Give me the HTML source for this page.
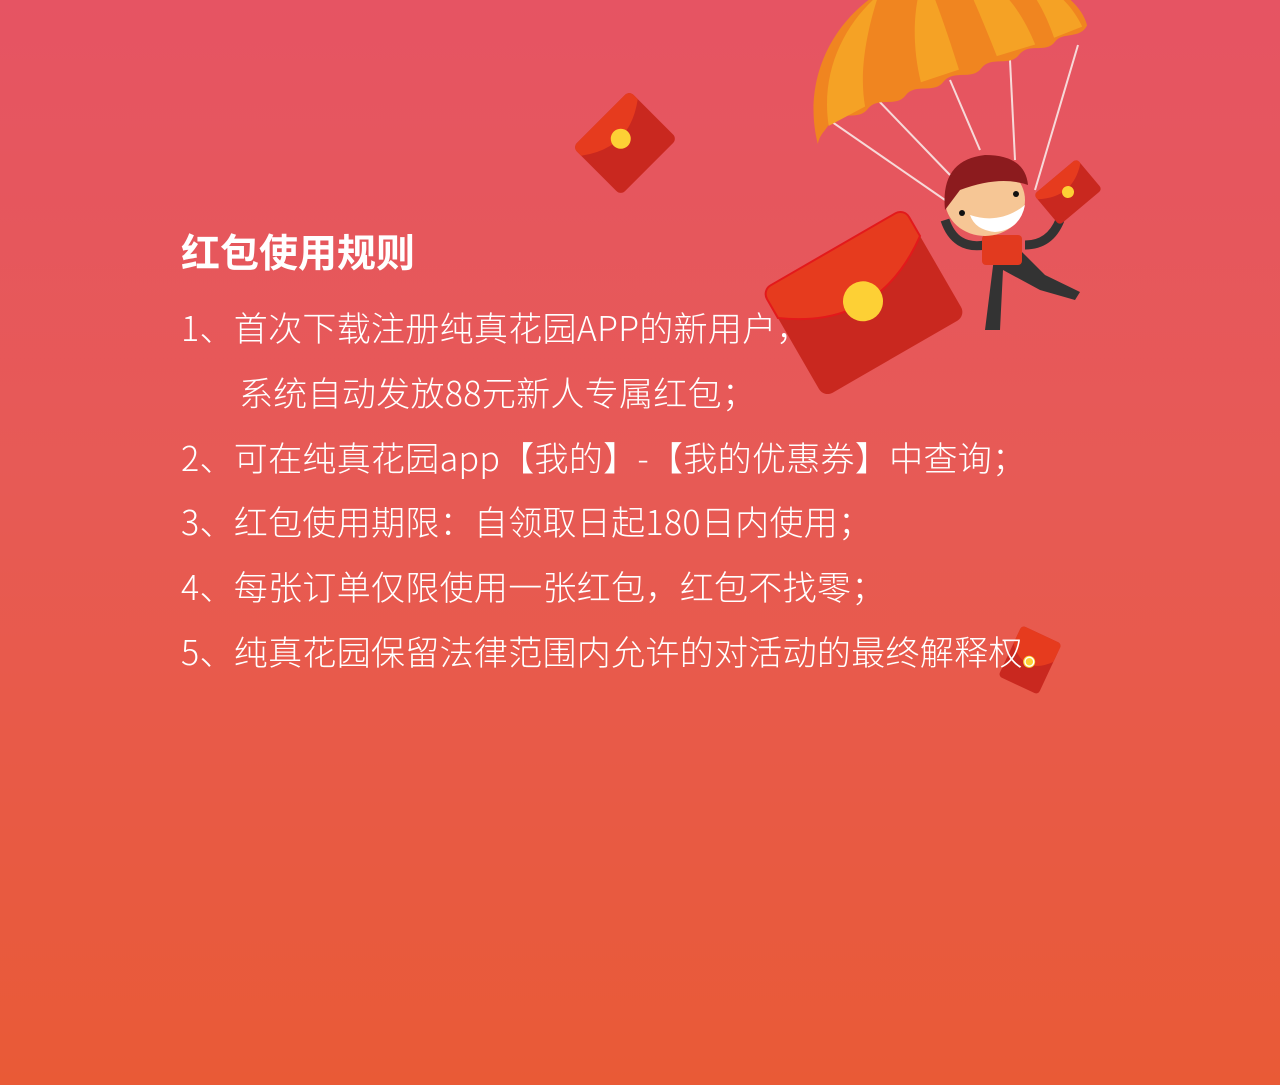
<!DOCTYPE html>
<html><head><meta charset="utf-8">
<style>
html,body{margin:0;padding:0}
body{width:1280px;height:1085px;overflow:hidden;position:relative;background:linear-gradient(180deg,#e65463 0%,#e75a55 45%,#e95a36 100%);font-family:"Noto Sans CJK SC","Liberation Sans",sans-serif;color:#fff}
.t{position:absolute;left:181px;top:226px;font-size:39px;font-weight:bold;margin:0;line-height:50px}
.l{position:absolute;left:181px;font-size:34px;white-space:nowrap;font-weight:300;line-height:40px;letter-spacing:0.3px}
svg{position:absolute;left:0;top:0}
</style></head><body>
<svg width="1280" height="1085">
 <g transform="translate(625,143) rotate(-45)">
  <rect x="-40" y="-34" width="80" height="68" rx="6" fill="#c9281f"/>
  <path d="M-40,-28 a6,6 0 0 1 6,-6 h68 a6,6 0 0 1 6,6 v6 q-40,30 -80,0 z" fill="#e63b1e"/>
  <circle cx="0" cy="-6" r="10" fill="#fdd035"/>
 </g>
 <g>
  <g stroke="#f7d9d9" stroke-width="2">
   <line x1="822" y1="115" x2="945" y2="200"/><line x1="875" y1="97" x2="950" y2="175"/>
   <line x1="950" y1="80" x2="980" y2="150"/><line x1="1010" y1="60" x2="1015" y2="160"/>
   <line x1="1078" y1="45" x2="1035" y2="190"/>
  </g>
  <g transform="rotate(-14 950 75)">
   <path d="M805,110 C805,30 870,-30 950,-30 C1030,-30 1095,20 1095,60 C1085,72 1070,60 1060,68 C1048,78 1035,62 1022,72 C1010,82 995,66 982,76 C970,86 955,70 942,80 C930,90 915,74 902,84 C890,94 875,78 862,88 C850,98 835,82 822,92 C815,100 810,100 805,110 Z" fill="#f08520"/>
   <path d="M820,95 C825,40 860,0 900,-20 C875,20 862,55 860,85 Z M920,75 C920,30 935,-10 950,-28 C955,0 958,40 960,72 Z M1000,68 C995,30 990,0 985,-25 C1020,-10 1035,30 1040,66 Z M1060,64 C1058,40 1052,15 1040,-5 C1070,10 1085,35 1090,60 Z" fill="#f5a225"/>
  </g>
 </g>
 <g>
  <path d="M995,250 L985,330 L1000,330 L1003,270 L1040,290 L1075,300 L1080,292 L1045,275 L1020,250 Z" fill="#333"/>
  <path d="M945,220 Q955,250 985,245 M1025,245 Q1050,245 1060,220" stroke="#333" stroke-width="9" fill="none"/>
  <rect x="982" y="235" width="40" height="30" rx="4" fill="#e23a1f"/>
  <ellipse cx="985" cy="200" rx="40" ry="36" fill="#f6c695"/>
  <path d="M945,210 Q940,160 985,155 Q1025,155 1028,185 Q1000,175 960,190 Z" fill="#8c1b1e"/>
  <path d="M970,215 Q1000,225 1025,205 Q1020,230 995,232 Q975,230 970,215 Z" fill="#fff"/>
  <circle cx="962" cy="213" r="3" fill="#111"/><circle cx="1016" cy="194" r="3" fill="#111"/>
 </g>
 <g transform="translate(1068,192) rotate(-40)">
  <rect x="-28" y="-20" width="56" height="40" rx="4" fill="#c9281f"/>
  <path d="M-28,-16 a4,4 0 0 1 4,-4 h48 a4,4 0 0 1 4,4 v2 q-28,22 -56,0 z" fill="#e63b1e"/>
  <circle cx="0" cy="0" r="6" fill="#fdd035"/>
 </g>
 <g transform="translate(864,303) rotate(-30)">
  <rect x="-82" y="-62" width="164" height="124" rx="10" fill="#c9281f"/>
  <path d="M-82,-52 a10,10 0 0 1 10,-10 h144 a10,10 0 0 1 10,10 v22 q-82,60 -164,0 z" fill="#e63b1e" stroke="#e3191b" stroke-width="2"/>
  <circle cx="0" cy="-2" r="20" fill="#fdd035"/>
 </g>
 <g transform="translate(1030,660) rotate(25)">
  <rect x="-22" y="-28" width="44" height="56" rx="4" fill="#c9281f"/>
  <path d="M-22,-24 a4,4 0 0 1 4,-4 h36 a4,4 0 0 1 4,4 v16 q-22,25 -44,0 z" fill="#e63b1e"/>
  <circle cx="0" cy="2" r="6" fill="#fdd035"/>
 </g>
</svg>
<h1 class="t">红包使用规则</h1>
<div class="l" style="top:307px">1、首次下载注册纯真花园APP的新用户，</div>
<div class="l" style="top:372px;left:239px">系统自动发放88元新人专属红包；</div>
<div class="l" style="top:437px">2、可在纯真花园app【我的】-【我的优惠券】中查询；</div>
<div class="l" style="top:501px">3、红包使用期限：自领取日起180日内使用；</div>
<div class="l" style="top:566px">4、每张订单仅限使用一张红包，红包不找零；</div>
<div class="l" style="top:631px">5、纯真花园保留法律范围内允许的对活动的最终解释权。</div>
</body></html>
